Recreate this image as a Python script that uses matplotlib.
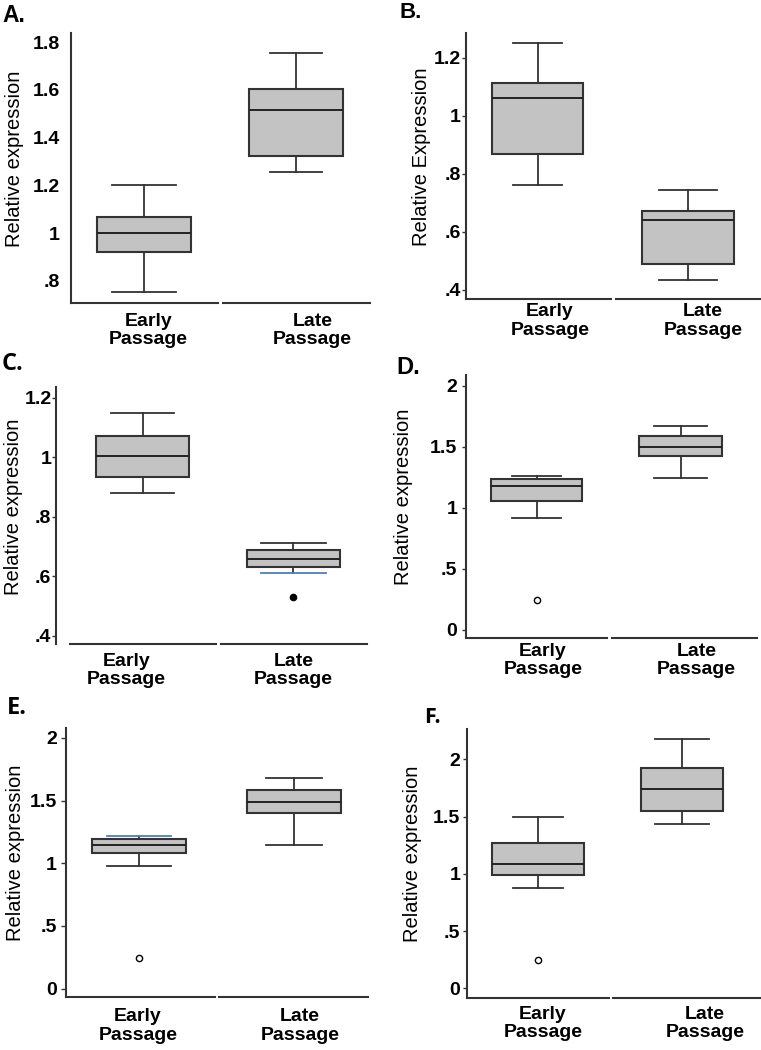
import matplotlib.pyplot as plt
import numpy as np

plt.rcParams['font.family'] = ['Liberation Sans', 'DejaVu Sans']

# categories
groups = ['Early\nPassage', 'Late\nPassage']

# five-number summaries: whislo, q1, median, q3, whishi
A_early = [0.753, 0.919, 1.000, 1.069, 1.200]
A_late = [1.255, 1.325, 1.514, 1.605, 1.755]
B_early = [0.761, 0.869, 1.061, 1.114, 1.252]
B_late = [0.433, 0.489, 0.640, 0.672, 0.744]
C_early = [0.879, 0.933, 1.005, 1.072, 1.150]
C_late = [0.610, 0.630, 0.659, 0.688, 0.711]
D_early = [0.913, 1.055, 1.178, 1.233, 1.260]
D_late = [1.246, 1.424, 1.500, 1.588, 1.672]
E_early = [0.981, 1.082, 1.149, 1.192, 1.215]
E_late = [1.147, 1.399, 1.489, 1.583, 1.683]
F_early = [0.880, 0.991, 1.085, 1.273, 1.500]
F_late = [1.440, 1.550, 1.742, 1.923, 2.183]

# outliers
C_late_out = [0.531]
D_early_out = [0.243]
E_early_out = [0.247]
F_early_out = [0.247]

# y tick values / labels
ticks_small = [0.8, 1.0, 1.2, 1.4, 1.6, 1.8]
labels_small = ['.8', '1', '1.2', '1.4', '1.6', '1.8']
ticks_mid = [0.4, 0.6, 0.8, 1.0, 1.2]
labels_mid = ['.4', '.6', '.8', '1', '1.2']
ticks_big = [0, 0.5, 1, 1.5, 2]
labels_big = ['0', '.5', '1', '1.5', '2']

LINE = '#333333'
FILL = '#c3c3c3'
BLUE = '#4f7fb5'


def stats(five, out):
    return dict(whislo=five[0], q1=five[1], med=five[2], q3=five[3],
                whishi=five[4], fliers=out)


def panel(rect, early, late, e_out, l_out, xlim, ylim, ticks, labels,
          ylabel, ylab_x, ticklen, ypad, xoff, xpad, widths, caps,
          xstart=None, filled=False):
    ax = fig.add_axes(rect)
    fl = dict(marker='o', markersize=4.5, markeredgecolor='black',
              markeredgewidth=1.0,
              markerfacecolor='black' if filled else 'white')
    res = ax.bxp([stats(early, e_out), stats(late, l_out)], positions=[0, 1],
                 widths=widths, capwidths=caps, patch_artist=True,
                 boxprops=dict(facecolor=FILL, edgecolor=LINE, linewidth=1.5),
                 medianprops=dict(color='#222222', linewidth=1.4),
                 whiskerprops=dict(color=LINE, linewidth=1.3),
                 capprops=dict(color=LINE, linewidth=1.3),
                 flierprops=fl)
    ax.set_xlim(*xlim)
    ax.set_ylim(*ylim)
    for s in ['top', 'right', 'bottom']:
        ax.spines[s].set_visible(False)
    ax.spines['left'].set_color(LINE)
    ax.spines['left'].set_linewidth(1.5)
    # broken baseline under the two groups
    x0 = xlim[0] if xstart is None else xstart
    ax.plot([x0, 0.49], [ylim[0], ylim[0]], color=LINE, lw=1.5, clip_on=False)
    ax.plot([0.52, xlim[1]], [ylim[0], ylim[0]], color=LINE, lw=1.5, clip_on=False)

    ax.set_yticks(ticks)
    ax.set_yticklabels(labels, fontsize=14, fontweight='bold')
    ax.tick_params(axis='y', length=ticklen, width=1, color=LINE, pad=ypad)
    ax.set_xticks([0 + xoff[0], 1 + xoff[1]])
    ax.set_xticklabels(groups, fontsize=14, fontweight='bold', linespacing=1.1)
    ax.tick_params(axis='x', length=0, pad=xpad)
    ax.set_ylabel(ylabel, fontsize=14.5)
    ax.yaxis.set_label_coords(ylab_x, 0.535)
    return ax, res


fig = plt.figure(figsize=(7.61, 10.5), dpi=100)

# A
panel([0.0933, 0.7114, 0.3929, 0.2571], A_early, A_late, [], [],
      (-0.478, 1.487), (0.707, 1.838), ticks_small, labels_small,
      'Relative expression', -0.157, 0, 8, (0.03, 0.11), 7,
      [0.62, 0.62], [0.42, 0.34])
# B
panel([0.612, 0.7152, 0.388, 0.2533], B_early, B_late, [], [],
      (-0.477, 1.485), (0.368, 1.285), ticks_mid, labels_mid,
      'Relative Expression', -0.118, 3, 0.5, (0.083, 0.10), 3,
      [0.61, 0.61], [0.33, 0.39])
# C
axC, resC = panel([0.0736, 0.3867, 0.4087, 0.245], C_early, C_late, [], C_late_out,
                  (-0.574, 1.489), (0.372, 1.237), ticks_mid, labels_mid,
                  'Relative expression', -0.106, 3, 0.3, (-0.105, 0.0), 6.5,
                  [0.62, 0.62], [0.42, 0.43], xstart=-0.48, filled=True)
resC['caps'][2].set_color(BLUE)
# D
panel([0.612, 0.3927, 0.3828, 0.2502], D_early, D_late, D_early_out, [],
      (-0.493, 1.53), (-0.066, 2.088), ticks_big, labels_big,
      'Relative expression', -0.181, 3, 3, (0.044, 0.11), 3.5,
      [0.634, 0.574], [0.34, 0.37])
# E
axE, resE = panel([0.0863, 0.0502, 0.3972, 0.2565], E_early, E_late, E_early_out, [],
                  (-0.474, 1.48), (-0.069, 2.08), ticks_big, labels_big,
                  'Relative expression', -0.135, 3.5, 3, (-0.006, 0.04), 8,
                  [0.606, 0.606], [0.41, 0.36])
resE['caps'][1].set_color(BLUE)
# F
panel([0.6133, 0.0492, 0.3867, 0.2565], F_early, F_late, F_early_out, [],
      (-0.496, 1.55), (-0.086, 2.266), ticks_big, labels_big,
      'Relative expression', -0.153, 3, 1.5, (0.035, 0.16), 5.5,
      [0.638, 0.574], [0.35, 0.37])

# panel letters
fig.text(0.003, 0.996, 'A.', fontsize=16.5, fontweight='bold', va='top')
fig.text(0.525, 0.998, 'B.', fontsize=16, fontweight='bold', va='top')
fig.text(0.002, 0.665, 'C.', fontsize=17, fontweight='bold', va='top',
         family=['Open Sans', 'DejaVu Sans'])
fig.text(0.521, 0.661, 'D.', fontsize=17, fontweight='bold', va='top')
fig.text(0.009, 0.337, 'E.', fontsize=17, fontweight='bold', va='top',
         family=['Open Sans', 'DejaVu Sans'])
fig.text(0.557, 0.327, 'F.', fontsize=15.5, fontweight='bold', va='top',
         family=['Open Sans', 'DejaVu Sans'])

plt.savefig('out.png', dpi=100)
